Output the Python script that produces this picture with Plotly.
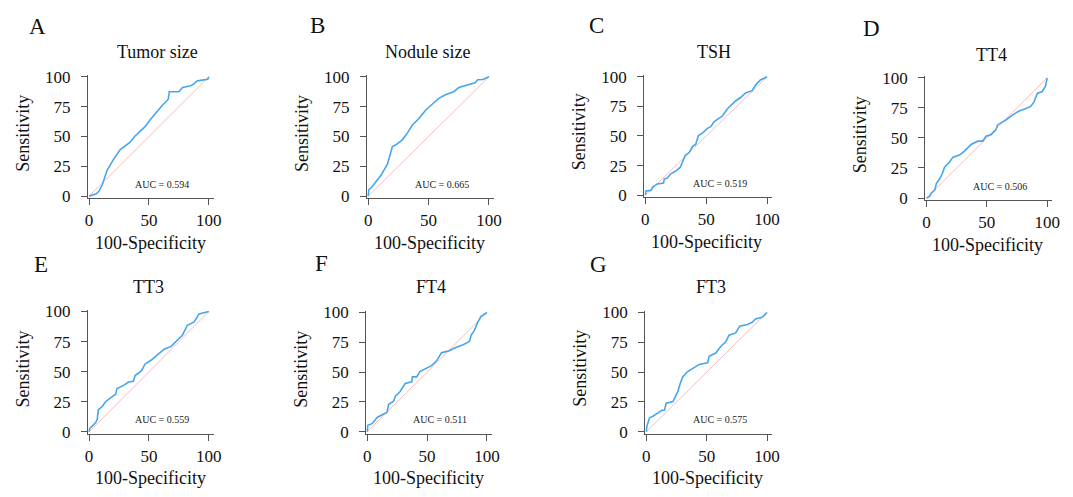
import plotly.graph_objects as go

# ---------------- data ----------------
panel_letters = ["A", "B", "C", "D", "E", "F", "G"]
panel_titles = ["Tumor size", "Nodule size", "TSH", "TT4", "TT3", "FT4", "FT3"]
auc_labels = ["AUC = 0.594", "AUC = 0.665", "AUC = 0.519", "AUC = 0.506",
              "AUC = 0.559", "AUC = 0.511", "AUC = 0.575"]
x_ticks = [0, 50, 100]
y_ticks = [0, 25, 50, 75, 100]
diag = [0, 100]

tumor_x = [0, 3, 6, 8.2, 11, 15, 20.5, 26, 30, 34, 38, 42, 46.5, 51, 56, 61, 66, 67, 71, 75, 78, 82, 85, 88, 90, 93, 97, 99, 100]
tumor_y = [0, 1, 2, 4, 9.5, 21.7, 31, 39, 42, 45, 50, 54, 58, 64, 70.5, 76, 81, 87.5, 87.5, 87.5, 91, 91.5, 92.5, 94.5, 96.5, 97, 97.5, 98, 100]

nodule_x = [0, 0.5, 2.5, 6.5, 10.7, 16, 20, 23, 28.4, 32.5, 36.6, 42, 47.5, 53, 58.5, 64, 70.8, 75, 80, 83, 88.5, 90.7, 95, 100]
nodule_y = [0, 5.4, 7, 12, 17.6, 27, 41.5, 43, 47.4, 53, 59.6, 65, 72, 77, 82, 85, 87.5, 91, 92.5, 94, 95, 97.5, 97.8, 100]

tsh_x = [0, 0.5, 4.6, 6, 10, 15, 15.5, 18, 21, 25, 28.6, 30.5, 32.7, 36, 38.7, 41.4, 43.6, 46.9, 51, 53.7, 56.4, 60, 63, 67.3, 71.4, 74, 78, 82.3, 87.7, 90.5, 94.5, 100]
tsh_y = [0, 3.5, 4, 6.8, 9.5, 10.3, 13.6, 14.4, 18, 20.4, 23.4, 28.5, 33.4, 36, 41, 43, 50.3, 52.4, 56.5, 57.9, 62, 64.7, 66.6, 72.8, 76.9, 79.6, 82.3, 86.4, 88.3, 93, 97.3, 100]

tt4_x = [0, 2.7, 4, 7, 8.2, 11, 13, 15, 19, 22, 27.4, 31.5, 37, 42.5, 46.6, 49.3, 53.4, 57.5, 58.9, 65.8, 71.2, 76.7, 82, 86.3, 89, 91.8, 95.9, 98.6, 100]
tt4_y = [0, 1.4, 4, 6.8, 12, 16, 20, 25.7, 29.7, 34, 35.7, 39, 44.6, 47.3, 47.3, 51.4, 52.7, 56.8, 60.8, 64.9, 68.9, 72.4, 74.3, 76.2, 79.7, 87, 88.6, 93, 100]

tt3_x = [0, 0.5, 2.7, 5.5, 6.8, 7.7, 11, 13.7, 19, 22, 23.3, 28.8, 32.9, 37, 38.4, 43.8, 46.6, 52, 57.5, 63, 68.5, 72.6, 78, 82, 87.7, 91.8, 95.9, 100]
tt3_y = [0, 2.7, 4.9, 7.6, 10.3, 18.4, 21, 25, 29, 31, 36, 38.6, 41.4, 42, 46.8, 50.8, 56.2, 59.7, 64.3, 68.9, 71, 75, 80.5, 88.6, 91.4, 98, 99, 100]

ft4_x = [0, 0.5, 4, 8.3, 12.4, 16.5, 17.9, 22, 23.4, 27.5, 31.7, 37.2, 37.7, 41.3, 44, 48.2, 53.7, 57.9, 62, 67.5, 73, 80, 85.4, 86.8, 89.5, 92.3, 95, 100]
ft4_y = [0, 5.4, 6.8, 12, 14.3, 16.2, 23, 25.7, 29.7, 33.8, 40.5, 41.9, 46, 46, 50.5, 52.7, 55.4, 59.5, 66.2, 67.6, 70.3, 73, 75.7, 81, 85, 91.9, 96.8, 100]

ft3_x = [0, 0.5, 2.7, 5.5, 9.6, 13, 15, 16.4, 22, 24, 26, 28, 30, 34, 39.7, 43.8, 50.7, 52, 57.5, 61.6, 65.8, 68.5, 74, 77.3, 83.6, 87.7, 90.4, 95.9, 100]
ft3_y = [0, 4.9, 11.7, 13, 15.8, 18, 18, 24, 25.3, 29.3, 33.4, 40.2, 45.7, 50.3, 53.8, 56.5, 57.9, 63.3, 66, 71.5, 75.5, 81, 82.9, 88.6, 90, 91.8, 94.6, 96, 100]

curves_x = [tumor_x, nodule_x, tsh_x, tt4_x, tt3_x, ft4_x, ft3_x]
curves_y = [tumor_y, nodule_y, tsh_y, tt4_y, tt3_y, ft4_y, ft3_y]

# ---------------- layout geometry (pixels) ----------------
W, H = 1073, 497
# x0px, x100px, y0px, y100px, title_x, title_y, letter_x, letter_y
geom = [
    (87, 208, 195, 72, 156, 46, 35, 20),
    (369, 491, 195, 72, 429, 46, 318, 19),
    (649, 772, 194, 72, 718, 46, 600, 19),
    (933, 1055, 197, 73, 999, 49, 878, 22),
    (87, 208, 438, 314, 147, 289, 38, 265),
    (368, 489, 438, 315, 432, 289, 322, 264),
    (650, 772, 438, 315, 715, 289, 602, 266),
]
XR = (-1, 104)
YR = (-1.5, 101.5)

FONT = "Liberation Serif, Times New Roman, serif"
BLUE = "#45A6EE"
PINK = "#F6BDBD"
AX = "#555555"

fig = go.Figure()
annotations = []
layout_axes = {}


def px(x):
    return x / W


def py(y):
    return 1 - y / H


for i in range(7):
    x0, x100, y0, y100, tx, ty, lx, ly = geom[i]
    u = (x100 - x0) / 100.0
    v = (y0 - y100) / 100.0
    dom_x = [px(x0 + XR[0] * u), px(x0 + XR[1] * u)]
    dom_y = [py(y0 - YR[0] * v), py(y0 - YR[1] * v)]
    n = "" if i == 0 else str(i + 1)
    xa, ya = "x" + n, "y" + n
    common = dict(showline=True, linecolor=AX, linewidth=1, ticks="outside",
                  ticklen=6, tickcolor=AX, tickwidth=1, showgrid=False,
                  zeroline=False, tickfont=dict(family=FONT, size=17, color="#111"),
                  fixedrange=True)
    layout_axes["xaxis" + n] = dict(domain=dom_x, range=list(XR), anchor=ya,
                                    tickvals=x_ticks, ticklabelstandoff=1, **common)
    layout_axes["yaxis" + n] = dict(domain=dom_y, range=list(YR), anchor=xa,
                                    tickvals=y_ticks, ticklabelstandoff=7, **common)
    fig.add_trace(go.Scatter(x=diag, y=diag, mode="lines", xaxis=xa, yaxis=ya,
                             line=dict(color=PINK, width=1), showlegend=False,
                             hoverinfo="skip"))
    fig.add_trace(go.Scatter(x=curves_x[i], y=curves_y[i], mode="lines",
                             xaxis=xa, yaxis=ya, line=dict(color=BLUE, width=1.6),
                             showlegend=False))
    annotations.append(dict(x=61, y=10, xref=xa, yref=ya, text=auc_labels[i],
                            showarrow=False, font=dict(family=FONT, size=10, color="#222"),
                            xanchor="center", yanchor="middle"))
    annotations.append(dict(x=px(tx), y=py(ty), xref="paper", yref="paper",
                            text=panel_titles[i], showarrow=False,
                            font=dict(family=FONT, size=18, color="#111"),
                            xanchor="center", yanchor="middle"))
    annotations.append(dict(x=px(lx), y=py(ly), xref="paper", yref="paper",
                            text=panel_letters[i], showarrow=False,
                            font=dict(family=FONT, size=23, color="#111"),
                            xanchor="center", yanchor="middle"))
    annotations.append(dict(x=px(x0 + 62), y=py(y0 + 48), xref="paper", yref="paper",
                            text="100-Specificity", showarrow=False,
                            font=dict(family=FONT, size=18, color="#111"),
                            xanchor="center", yanchor="middle"))
    annotations.append(dict(x=px(x0 - 67), y=py(y0 - 65), xref="paper", yref="paper",
                            text="Sensitivity", showarrow=False, textangle=-90,
                            font=dict(family=FONT, size=18, color="#111"),
                            xanchor="center", yanchor="middle"))

fig.update_layout(width=W, height=H, margin=dict(l=0, r=0, t=0, b=0),
                  paper_bgcolor="white", plot_bgcolor="white",
                  annotations=annotations, **layout_axes)

fig.write_html("out.html", config={"displayModeBar": False},
               post_script="document.body.style.margin='0';document.body.style.overflow='hidden';")
